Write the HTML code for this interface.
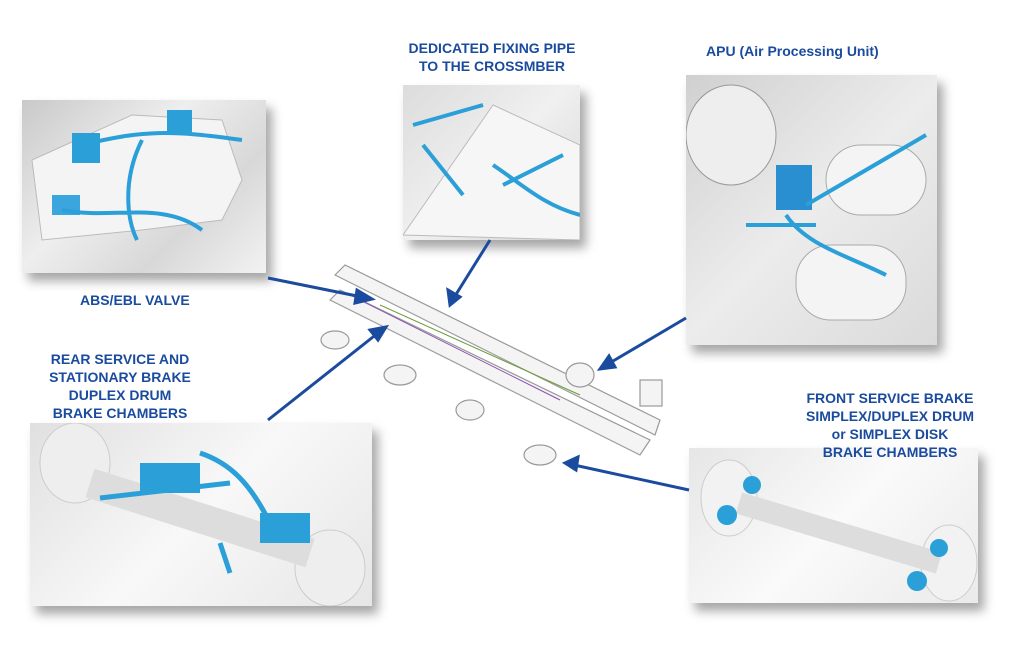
<!DOCTYPE html>
<html><head><meta charset="utf-8">
<style>
html,body{margin:0;padding:0;background:#fff;}
#c{position:relative;width:1024px;height:668px;overflow:hidden;font-family:"Liberation Sans",sans-serif;}
.box{position:absolute;box-shadow:6px 8px 10px rgba(0,0,0,0.35);overflow:hidden;}
.lbl{position:absolute;color:#1a4b9e;font-weight:bold;font-size:14px;line-height:18px;white-space:nowrap;}
svg{position:absolute;left:0;top:0;}
</style></head><body><div id="c">

<div class="box" style="left:22px;top:100px;width:244px;height:173px;background:linear-gradient(135deg,#c9c9c9,#eeeeee 40%,#d8d8d8 70%,#f2f2f2);">
<svg width="244" height="173"><path d="M10 60 L110 15 L200 20 L220 80 L200 120 L120 130 L20 140 Z" fill="#f4f4f4" stroke="#bbb"/>
<rect x="50" y="33" width="28" height="30" fill="#2a9fd8"/><rect x="145" y="10" width="25" height="22" fill="#2a9fd8"/>
<rect x="30" y="95" width="28" height="20" fill="#3aa6dd"/>
<path d="M60 45 C120 30 150 30 220 40 M120 40 C100 80 105 120 115 140 M40 110 C90 120 140 100 180 130" stroke="#2a9fd8" stroke-width="4" fill="none"/></svg></div>

<div class="box" style="left:403px;top:85px;width:177px;height:155px;background:linear-gradient(135deg,#dcdcdc,#f0f0f0 50%,#d4d4d4);">
<svg width="177" height="155"><path d="M0 150 L90 20 L177 60 L177 155 Z" fill="#f6f6f6" stroke="#bbb"/>
<path d="M10 40 L80 20 M20 60 L60 110 M90 80 C120 100 140 120 177 130 M100 100 L160 70" stroke="#2a9fd8" stroke-width="4" fill="none"/></svg></div>

<div class="box" style="left:686px;top:75px;width:251px;height:270px;background:linear-gradient(135deg,#d0d0d0,#ececec 50%,#dadada);">
<svg width="251" height="270"><ellipse cx="45" cy="60" rx="45" ry="50" fill="#eee" stroke="#999"/>
<rect x="140" y="70" width="100" height="70" rx="35" fill="#f4f4f4" stroke="#aaa"/>
<rect x="110" y="170" width="110" height="75" rx="35" fill="#f4f4f4" stroke="#aaa"/>
<rect x="90" y="90" width="36" height="45" fill="#2a8fd0"/>
<path d="M100 140 C120 170 160 180 200 200 M120 130 L240 60 M60 150 L130 150" stroke="#2a9fd8" stroke-width="4" fill="none"/></svg></div>

<div class="box" style="left:30px;top:423px;width:342px;height:183px;background:linear-gradient(135deg,#e0e0e0,#f8f8f8 50%,#e6e6e6);">
<svg width="342" height="183"><ellipse cx="45" cy="40" rx="35" ry="40" fill="#eee" stroke="#ccc"/>
<ellipse cx="300" cy="145" rx="35" ry="38" fill="#eee" stroke="#ccc"/>
<path d="M60 60 L280 130" stroke="#ddd" stroke-width="30"/>
<rect x="110" y="40" width="60" height="30" fill="#2a9fd8"/><rect x="230" y="90" width="50" height="30" fill="#2a9fd8"/>
<path d="M70 75 L200 60 M170 30 C200 40 220 60 240 100 M190 120 L200 150" stroke="#2a9fd8" stroke-width="5" fill="none"/></svg></div>

<div class="box" style="left:689px;top:448px;width:289px;height:155px;background:linear-gradient(135deg,#e6e6e6,#fafafa 50%,#eaeaea);">
<svg width="289" height="155"><ellipse cx="40" cy="50" rx="28" ry="38" fill="#f2f2f2" stroke="#ccc"/>
<ellipse cx="260" cy="115" rx="28" ry="38" fill="#f2f2f2" stroke="#ccc"/>
<path d="M50 55 L250 115" stroke="#ddd" stroke-width="22"/>
<circle cx="63" cy="37" r="9" fill="#2a9fd8"/><circle cx="38" cy="67" r="10" fill="#2a9fd8"/>
<circle cx="250" cy="100" r="9" fill="#2a9fd8"/><circle cx="228" cy="133" r="10" fill="#2a9fd8"/></svg></div>

<svg width="1024" height="668">
<g stroke="#9a9a9a" fill="#f4f4f4" stroke-width="1.2">
<path d="M335 275 L345 265 L660 420 L655 435 Z"/>
<path d="M330 300 L340 290 L650 440 L640 455 Z"/>
<ellipse cx="335" cy="340" rx="14" ry="9"/><ellipse cx="400" cy="375" rx="16" ry="10"/>
<ellipse cx="470" cy="410" rx="14" ry="10"/><ellipse cx="540" cy="455" rx="16" ry="10"/>
<ellipse cx="580" cy="375" rx="14" ry="12"/><rect x="640" y="380" width="22" height="26"/>
</g>
<path d="M360 300 L560 400" stroke="#8a4fb0" stroke-width="1" fill="none"/>
<path d="M380 305 L580 395" stroke="#6a9a3a" stroke-width="1" fill="none"/>
<g stroke="#1a4b9e" stroke-width="3" fill="#1a4b9e">
<line x1="268" y1="278" x2="362" y2="297"/><polygon points="372,299 357,290 355,303"/>
<line x1="490" y1="240" x2="455" y2="296"/><polygon points="450,305 448,290 460,297"/>
<line x1="686" y1="318" x2="608" y2="364"/><polygon points="600,369 609,356 615,367"/>
<line x1="268" y1="420" x2="378" y2="333"/><polygon points="386,327 370,330 378,340"/>
<line x1="689" y1="490" x2="574" y2="465"/><polygon points="565,463 578,457 576,470"/>
</g>
</svg>

<div class="lbl" style="left:392px;top:39px;width:200px;text-align:center;">DEDICATED FIXING PIPE<br>TO THE CROSSMBER</div>
<div class="lbl" style="left:706px;top:42px;">APU (Air Processing Unit)</div>
<div class="lbl" style="left:80px;top:291px;">ABS/EBL VALVE</div>
<div class="lbl" style="left:20px;top:350px;width:200px;text-align:center;">REAR SERVICE AND<br>STATIONARY BRAKE<br>DUPLEX DRUM<br>BRAKE CHAMBERS</div>
<div class="lbl" style="left:780px;top:389px;width:220px;text-align:center;">FRONT SERVICE BRAKE<br>SIMPLEX/DUPLEX DRUM<br>or SIMPLEX DISK<br>BRAKE CHAMBERS</div>
</div></body></html>
